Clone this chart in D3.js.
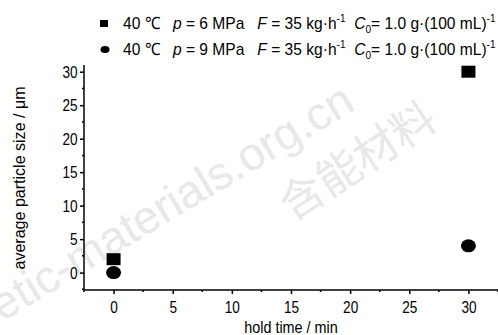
<!DOCTYPE html>
<html>
<head>
<meta charset="utf-8">
<script src="https://cdn.jsdelivr.net/npm/d3@7"></script>
<style>
  body { margin: 0; background: #fff; }
  svg { display: block; font-family: "Liberation Sans", Arial, sans-serif; }
</style>
</head>
<body>
<div id="holder"></div>
<script>
const w = 498;
const h = 335;

// DATA
const holdTime6 = [0, 30];
const size6 = [2, 30];
const holdTime9 = [0, 30];
const size9 = [0, 4];
const xTicks = [0, 5, 10, 15, 20, 25, 30];
const yTicks = [0, 5, 10, 15, 20, 25, 30];

const svg = d3.select("#holder")
    .append("svg")
    .attr("width", w)
    .attr("height", h)

// WATERMARK
svg.append("text")
    .attr("transform", "translate(2,322) rotate(-31)")
    .attr("font-size", 46)
    .attr("fill", "#e8e8e8")
    .text("etic-materials.org.cn")

svg.append("text")
    .attr("transform", "translate(292,222) rotate(-33)")
    .attr("font-family", "Noto Sans CJK SC, sans-serif")
    .attr("font-size", 44)
    .attr("fill", "#e8e8e8")
    .text("含能材料")

// SCALES
const xScale = d3.scaleLinear()
    .domain([-2.5, 32.5])
    .range([84, 498])

const yScale = d3.scaleLinear()
    .domain([-2.6, 31])
    .range([290, 65])

// X AXIS
const xAxis = d3.axisBottom(xScale)
    .tickValues(xTicks)
    .tickSize(4)
    .tickPadding(7)

const gx = svg.append("g")
    .attr("transform", "translate(0,290)")
    .call(xAxis)

gx.select(".domain").attr("stroke-width", 1.5).attr("d", "M84,0H498")
gx.selectAll(".tick line").attr("stroke-width", 1.5)
gx.selectAll(".tick text")
    .attr("font-size", 17)
    .attr("font-family", null)
    .attr("transform", "scale(0.8,1)")

gx.selectAll(".minor")
    .data(d3.range(-2.5, 33, 5))
    .enter()
    .append("line")
    .attr("x1", d => xScale(d))
    .attr("x2", d => xScale(d))
    .attr("y1", 0)
    .attr("y2", 2)
    .attr("stroke", "#000")
    .attr("stroke-width", 1.5)

// Y AXIS
const yAxis = d3.axisLeft(yScale)
    .tickValues(yTicks)
    .tickSize(4)
    .tickPadding(4)

const gy = svg.append("g")
    .attr("transform", "translate(84,0)")
    .call(yAxis)

gy.select(".domain").attr("stroke-width", 1.5).attr("d", "M0,65V290")
gy.selectAll(".tick line").attr("stroke-width", 1.5)
gy.selectAll(".tick text")
    .attr("font-size", 17)
    .attr("font-family", null)
    .attr("transform", "scale(0.8,1)")

gy.selectAll(".minor")
    .data(d3.range(-2.5, 31, 5).filter(d => d > -2.6))
    .enter()
    .append("line")
    .attr("y1", d => yScale(d))
    .attr("y2", d => yScale(d))
    .attr("x1", 0)
    .attr("x2", -2)
    .attr("stroke", "#000")
    .attr("stroke-width", 1.5)

// AXIS LABELS
svg.append("text")
    .attr("transform", "translate(291,333) scale(0.9,1)")
    .attr("text-anchor", "middle")
    .attr("font-size", 16)
    .text("hold time / min")

svg.append("text")
    .attr("transform", "translate(25,178) rotate(-90)")
    .attr("text-anchor", "middle")
    .attr("font-size", 16)
    .attr("textLength", 183)
    .attr("lengthAdjust", "spacingAndGlyphs")
    .text("average particle size / μm")

// POINTS
svg.selectAll(".sq")
    .data(holdTime6.map((t, i) => [t, size6[i]]))
    .enter()
    .append("rect")
    .attr("x", d => xScale(d[0]) - 7)
    .attr("y", d => yScale(d[1]) - 6)
    .attr("width", 14)
    .attr("height", 12)
    .attr("fill", "#000")

svg.selectAll(".ci")
    .data(holdTime9.map((t, i) => [t, size9[i]]))
    .enter()
    .append("ellipse")
    .attr("cx", d => xScale(d[0]))
    .attr("cy", d => yScale(d[1]))
    .attr("rx", 7.5)
    .attr("ry", 6.5)
    .attr("fill", "#000")

// LEGEND
const legend = [
    { p: "6", marker: "square", y: 29 },
    { p: "9", marker: "circle", y: 55 }
]

legend.forEach(l => {
    if (l.marker === "square") {
        svg.append("rect").attr("x", 100).attr("y", l.y - 9).attr("width", 8).attr("height", 7).attr("fill", "#000")
    } else {
        svg.append("ellipse").attr("cx", 105).attr("cy", l.y - 5.5).attr("rx", 4.5).attr("ry", 3.6).attr("fill", "#000")
    }
    const g = svg.append("g").attr("transform", "translate(123," + l.y + ")")
    const t = g.append("text")
        .attr("font-size", 17)
        .attr("xml:space", "preserve")
    t.append("tspan").text("40 ℃   ")
    t.append("tspan").attr("font-style", "italic").text("p")
    t.append("tspan").text(" = " + l.p + " MPa   ")
    t.append("tspan").attr("font-style", "italic").text("F")
    t.append("tspan").text(" = 35 kg·h")
    t.append("tspan").attr("font-size", 11).attr("dy", -7).text("-1")
    t.append("tspan").attr("dy", 7).text("  ")
    t.append("tspan").attr("font-style", "italic").text("C")
    t.append("tspan").attr("font-size", 11).attr("dy", 4).text("0")
    t.append("tspan").attr("dy", -4).text("= 1.0 g·(100 mL)")
    t.append("tspan").attr("font-size", 11).attr("dy", -7).text("-1")
    const len = t.node().getBBox().width
    t.attr("transform", "scale(" + (373 / len) + ",1)")
})
</script>
</body>
</html>
